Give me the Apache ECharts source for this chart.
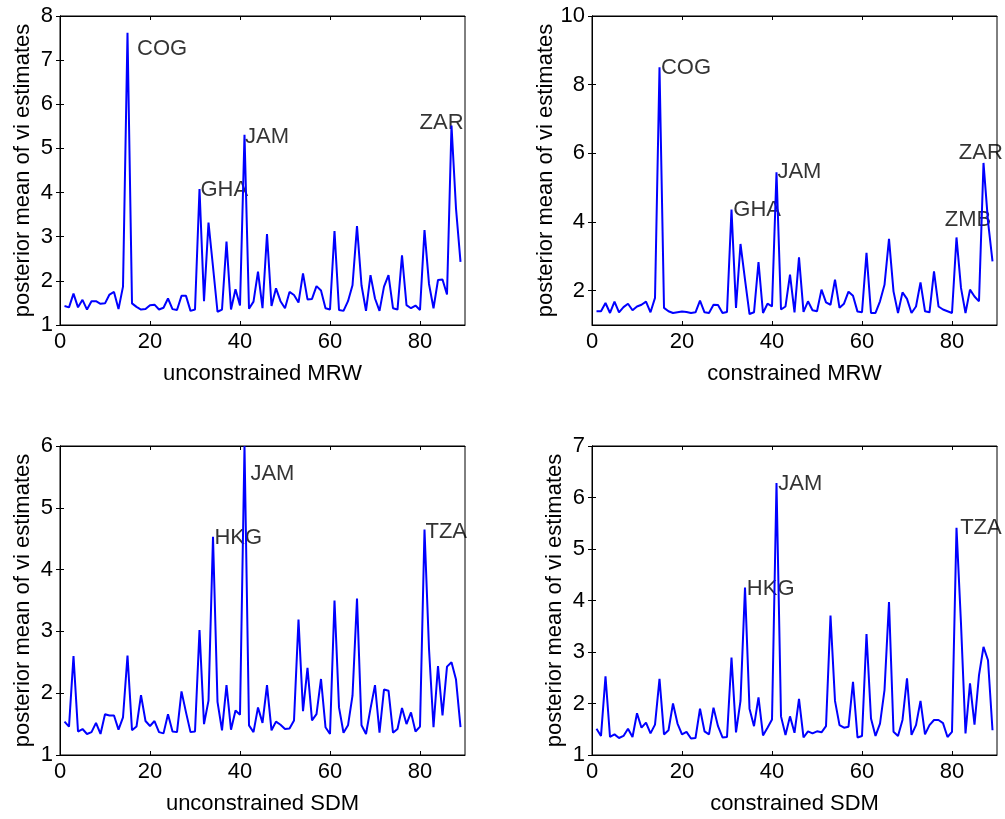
<!DOCTYPE html>
<html>
<head>
<meta charset="utf-8">
<script src="https://cdn.jsdelivr.net/npm/echarts@6/dist/echarts.min.js"></script>
<style>
html,body{margin:0;padding:0;background:#fff;}
#chart{width:1005px;height:819px;}
</style>
</head>
<body>
<div id="chart"></div>
<script>
// ---- data ----
const uMRW = [1.43,1.40,1.71,1.40,1.57,1.35,1.54,1.54,1.48,1.49,
  1.69,1.75,1.36,1.87,7.62,1.49,1.41,1.35,1.36,1.45,
  1.46,1.35,1.39,1.60,1.36,1.34,1.66,1.66,1.32,1.35,
  4.08,1.54,3.32,2.32,1.30,1.35,2.89,1.35,1.81,1.44,
  5.31,1.37,1.53,2.21,1.38,3.06,1.43,1.83,1.54,1.38,
  1.75,1.68,1.51,2.17,1.58,1.59,1.88,1.78,1.38,1.35,
  3.13,1.34,1.32,1.54,1.90,3.24,1.90,1.32,2.13,1.60,
  1.32,1.87,2.13,1.38,1.35,2.58,1.45,1.38,1.44,1.34,
  3.15,1.93,1.38,2.02,2.03,1.69,5.52,3.64,2.43];
const cMRW = [1.40,1.40,1.64,1.35,1.68,1.37,1.52,1.62,1.43,1.54,
  1.59,1.68,1.37,1.79,8.51,1.50,1.40,1.35,1.37,1.39,
  1.38,1.35,1.37,1.71,1.37,1.35,1.59,1.58,1.35,1.38,
  4.36,1.50,3.36,2.32,1.32,1.37,2.83,1.35,1.62,1.54,
  5.45,1.45,1.54,2.47,1.37,2.97,1.38,1.69,1.43,1.40,
  2.03,1.66,1.59,2.32,1.50,1.62,1.97,1.85,1.39,1.37,
  3.10,1.35,1.35,1.69,2.17,3.51,1.98,1.35,1.95,1.76,
  1.35,1.54,2.24,1.40,1.37,2.56,1.54,1.45,1.40,1.35,
  3.55,2.08,1.35,2.03,1.83,1.69,5.72,4.02,2.85];
const uSDM = [1.54,1.46,2.60,1.38,1.42,1.34,1.37,1.52,1.34,1.66,
  1.64,1.64,1.41,1.61,2.61,1.40,1.46,1.97,1.55,1.47,
  1.55,1.37,1.35,1.66,1.38,1.37,2.03,1.69,1.37,1.38,
  3.02,1.50,1.88,4.53,1.86,1.40,2.13,1.41,1.72,1.65,
  6.00,1.48,1.37,1.77,1.52,2.13,1.40,1.54,1.49,1.42,
  1.43,1.56,3.19,1.71,2.41,1.56,1.66,2.23,1.45,1.34,
  3.50,1.77,1.36,1.48,1.96,3.53,1.48,1.34,1.75,2.13,
  1.36,2.06,2.04,1.36,1.42,1.76,1.50,1.69,1.38,1.46,
  4.65,2.72,1.45,2.44,1.64,2.43,2.50,2.22,1.45];
const cSDM = [1.51,1.37,2.53,1.35,1.40,1.33,1.37,1.51,1.35,1.81,
  1.53,1.63,1.42,1.59,2.48,1.40,1.48,2.00,1.61,1.40,
  1.45,1.32,1.33,1.90,1.46,1.40,1.92,1.56,1.34,1.35,
  2.89,1.44,2.05,4.25,1.90,1.56,2.12,1.38,1.53,1.69,
  6.28,1.75,1.39,1.75,1.43,2.09,1.34,1.46,1.42,1.46,
  1.44,1.56,3.71,2.05,1.58,1.53,1.55,2.42,1.34,1.37,
  3.35,1.71,1.37,1.61,2.26,3.97,1.45,1.37,1.68,2.49,
  1.39,1.58,2.05,1.40,1.58,1.68,1.68,1.62,1.35,1.45,
  5.41,3.55,1.42,2.39,1.59,2.55,3.10,2.84,1.48];

// text annotations: [x, y, label]
const uMRWText = [[17.0,7.26,'COG'],[31.1,4.05,'GHA'],[41.0,5.26,'JAM'],[79.8,5.58,'ZAR']];
const cMRWText = [[15.2,8.49,'COG'],[31.3,4.36,'GHA'],[41.1,5.45,'JAM'],[81.4,6.01,'ZAR'],[78.3,4.05,'ZMB']];
const uSDMText = [[42.2,5.55,'JAM'],[34.2,4.52,'HKG'],[81.1,4.61,'TZA']];
const cSDMText = [[41.3,6.27,'JAM'],[34.3,4.23,'HKG'],[81.7,5.40,'TZA']];

const xTicks = [0,20,40,60,80];
const yTicks1 = [1,2,3,4,5,6,7,8];
const yTicks2 = [2,4,6,8,10];
const yTicks3 = [1,2,3,4,5,6];
const yTicks4 = [1,2,3,4,5,6,7];

const xNames = ['unconstrained MRW','constrained MRW','unconstrained SDM','constrained SDM'];
const yName = 'posterior mean of vi estimates';

// ---- layout ----
const FONT = '"Liberation Sans", Arial, Helvetica, sans-serif';
const FS = 22;
const panels = [
  {vals:uMRW, txt:uMRWText, yMin:1, yMax:8,  yTicks:yTicks1, left:60,  top:16},
  {vals:cMRW, txt:cMRWText, yMin:1, yMax:10, yTicks:yTicks2, left:592, top:16},
  {vals:uSDM, txt:uSDMText, yMin:1, yMax:6,  yTicks:yTicks3, left:60,  top:446},
  {vals:cSDM, txt:cSDMText, yMin:1, yMax:7,  yTicks:yTicks4, left:592, top:446}
];

const grid=[], xAxis=[], yAxis=[], series=[];
panels.forEach((p,k)=>{
  grid.push({left:p.left, top:p.top, width:405, height:309, show:true, borderColor:'#000', borderWidth:1, backgroundColor:'#fff'});
  const axLine = {show:true, lineStyle:{color:'#000', width:1}};
  const tick = (vals)=>({show:true, inside:true, length:4, lineStyle:{color:'#000', width:1}, customValues:vals});
  // bottom x
  xAxis.push({type:'value', gridIndex:k, min:0, max:90, position:'bottom',
    axisLine:axLine, axisTick:tick(xTicks), splitLine:{show:false},
    axisLabel:{show:true, customValues:xTicks, color:'#000', fontSize:FS, fontFamily:FONT, margin:6},
    name:xNames[k], nameLocation:'middle', nameGap:38,
    nameTextStyle:{color:'#000', fontSize:FS, fontFamily:FONT}});
  // top x (mirror ticks)
  xAxis.push({type:'value', gridIndex:k, min:0, max:90, position:'top',
    axisLine:axLine, axisTick:tick(xTicks), splitLine:{show:false}, axisLabel:{show:false}});
  // left y
  yAxis.push({type:'value', gridIndex:k, min:p.yMin, max:p.yMax, position:'left',
    axisLine:axLine, axisTick:tick(p.yTicks), splitLine:{show:false},
    axisLabel:{show:true, customValues:p.yTicks, color:'#000', fontSize:FS, fontFamily:FONT, margin:7},
    name:yName, nameLocation:'middle', nameGap:26, nameRotate:90,
    nameTextStyle:{color:'#000', fontSize:FS, fontFamily:FONT}});
  // right y (mirror ticks)
  yAxis.push({type:'value', gridIndex:k, min:p.yMin, max:p.yMax, position:'right',
    axisLine:axLine, axisTick:tick(p.yTicks), splitLine:{show:false}, axisLabel:{show:false}});

  series.push({type:'line', xAxisIndex:2*k, yAxisIndex:2*k,
    data:p.vals.map((v,i)=>[i+1,v]), showSymbol:false, symbol:'none',
    lineStyle:{color:'#0000ff', width:2}, animation:false, clip:false, silent:true});
  series.push({type:'scatter', xAxisIndex:2*k, yAxisIndex:2*k,
    data:p.txt.map(t=>({value:[t[0],t[1]], name:t[2]})),
    symbolSize:1, itemStyle:{color:'rgba(0,0,0,0)'}, animation:false, silent:true,
    label:{show:true, position:'right', distance:0, formatter:'{b}', color:'#000',
      fontSize:FS, fontFamily:FONT}});
});

const chart = echarts.init(document.getElementById('chart'), null, {renderer:'canvas'});
chart.setOption({animation:false, backgroundColor:'#fff', grid, xAxis, yAxis, series});
</script>
</body>
</html>
